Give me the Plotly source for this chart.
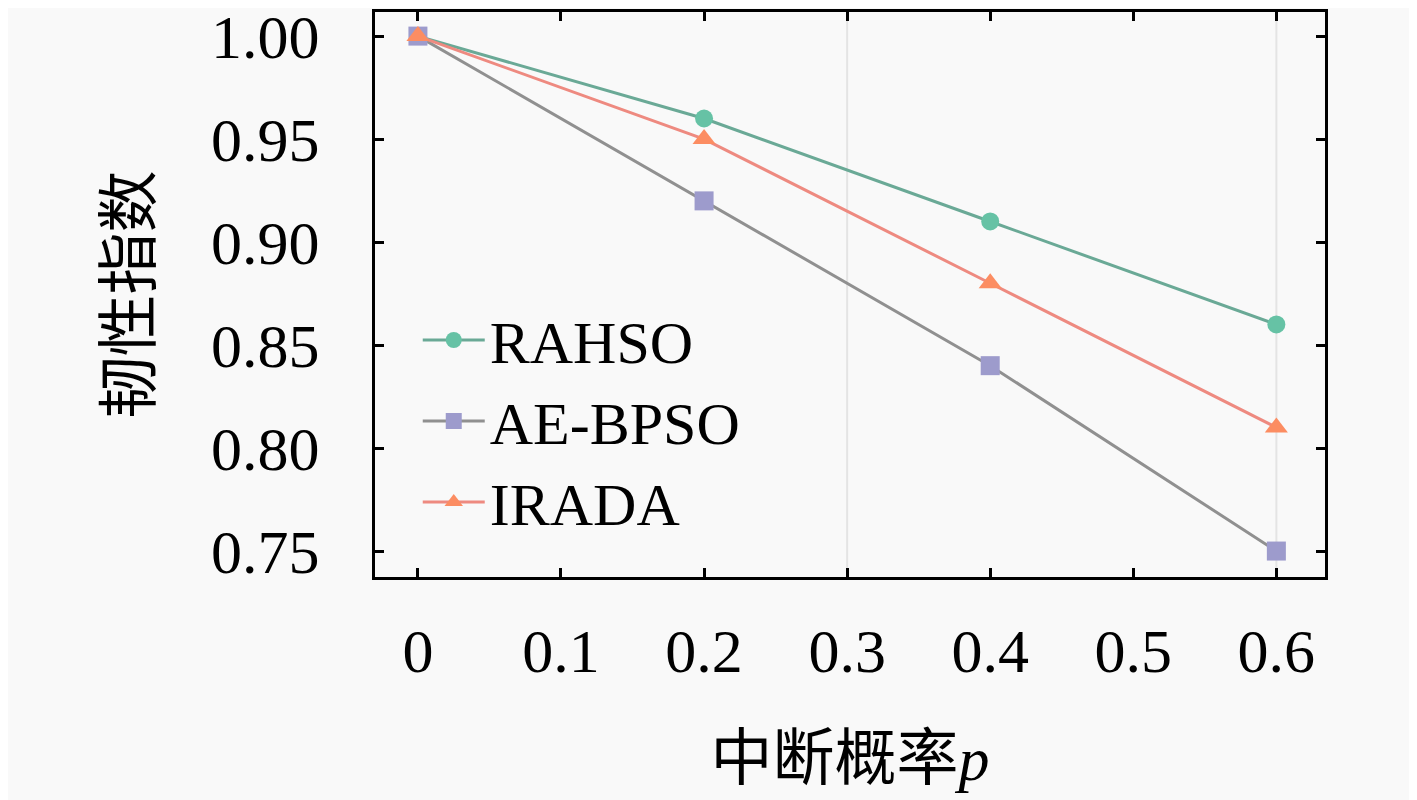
import plotly.graph_objects as go

p = [0, 0.2, 0.4, 0.6]
rahso = [1.00, 0.96, 0.91, 0.86]
aebpso = [1.00, 0.92, 0.84, 0.75]
irada = [1.00, 0.95, 0.88, 0.81]
x_ticks = [0, 0.1, 0.2, 0.3, 0.4, 0.5, 0.6]
x_tick_text = ["0", "0.1", "0.2", "0.3", "0.4", "0.5", "0.6"]
y_ticks = [0.75, 0.80, 0.85, 0.90, 0.95, 1.00]
y_tick_text = ["0.75", "0.80", "0.85", "0.90", "0.95", "1.00"]
grid_x = [0.3, 0.6]

SERIF = "Liberation Serif, DejaVu Serif, serif"
CJK = "Noto Sans CJK SC"

fig = go.Figure()
series = [
    ("RAHSO", rahso, "#6aa996", "#66c2a5", "circle", 18),
    ("AE-BPSO", aebpso, "#909090", "#9d9bcc", "square", 19),
    ("IRADA", irada, "#ee8a80", "#fc8d62", "triangle-up", 20),
]
for name, vals, lc, mc, sym, sz in series:
    fig.add_trace(go.Scatter(
        x=p, y=vals, name=name, mode="lines+markers",
        line=dict(color=lc, width=3),
        marker=dict(symbol=sym, size=sz, color=mc, line=dict(width=0)),
    ))

for gx in grid_x:
    fig.add_vline(x=gx, line=dict(color="#e4e4e4", width=2), layer="below")

axis_common = dict(
    showline=True, linecolor="black", linewidth=3, mirror="ticks",
    ticks="inside", ticklen=9, tickwidth=3, tickcolor="black",
    showgrid=False, zeroline=False, automargin=False,
    ticklabeloverflow="allow",
    tickfont=dict(family=SERIF, size=62, color="black"),
)

# page body has an 8px margin; compensate so the plot lands where the reference has it
fig.update_layout(
    width=1417, height=800,
    margin=dict(l=367, r=100, t=4, b=231),
    paper_bgcolor="#f9f9f9", plot_bgcolor="#f9f9f9",
    xaxis=dict(
        range=[-0.03, 0.634], tickvals=x_ticks, ticktext=x_tick_text,
        ticklabelstandoff=18,
        title=dict(text="中断概率<i><span style='font-family:Liberation Serif'>p</span></i>",
                   font=dict(family=CJK, size=62, color="black"), standoff=53),
        **axis_common,
    ),
    yaxis=dict(
        range=[0.7374, 1.0117], tickvals=y_ticks, ticktext=y_tick_text,
        ticklabelstandoff=40,
        title=dict(text="韧性指数", font=dict(family=CJK, size=62, color="black"), standoff=40),
        **axis_common,
    ),
    legend=dict(
        x=0.045, y=0.50, xanchor="left", yanchor="top",
        bgcolor="rgba(0,0,0,0)", font=dict(family=SERIF, size=60, color="black"),
        itemwidth=62, tracegroupgap=0,
    ),
    showlegend=True,
)

fig.write_html("out.html")
